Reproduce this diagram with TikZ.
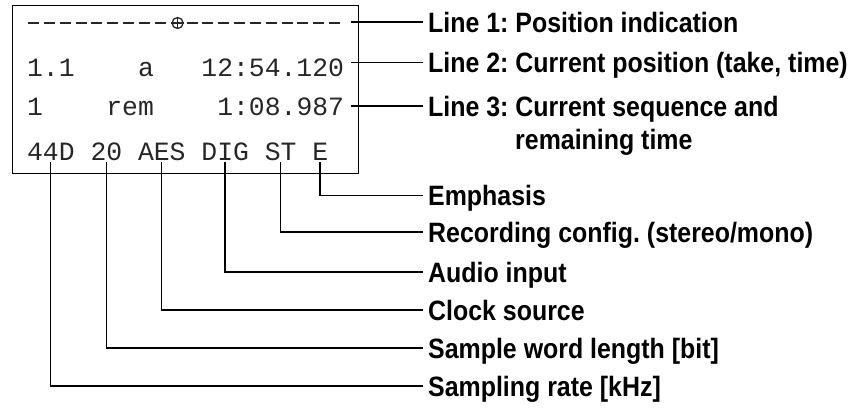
\documentclass[tikz,border=0pt]{standalone}
\usepackage{fontspec}
\newfontfamily\lblfont{Liberation Sans}[FakeStretch=0.89]
\newfontfamily\lcdfont{Liberation Mono}
\frenchspacing
\begin{document}
\begin{tikzpicture}[x=1pt,y=-1pt,
  lcd/.style={font=\lcdfont\fontsize{26.4}{30}\selectfont, anchor=base west, inner sep=0pt, text=black!85},
  lblfnt/.style={font=\lblfont\bfseries\fontsize{28}{32}\selectfont\frenchspacing},
  lbl/.style={lblfnt, anchor=west, inner xsep=5pt, inner ysep=0pt, text height=20pt, text depth=0pt},
  lead/.style={line width=1.3pt}]
\useasboundingbox (0,0) rectangle (853,407);
% display frame
\node[draw, line width=1.4pt, minimum width=346pt, minimum height=168pt, anchor=north west, inner sep=0pt] (frame) at (12,5) {};
% line 1
\node[circle, draw=black!85, line width=1.3pt, minimum size=11pt, inner sep=0pt] (pos) at (177.6,23) {};
\draw[black!85, line width=1.3pt] (pos.north) -- (pos.south) (pos.west) -- (pos.east);
\draw[black!85, line width=2pt, dash pattern=on 11pt off 4.85pt] (28,23) -- (170,23);
\draw[black!85, line width=2pt, dash pattern=on 11pt off 4.85pt] (186.5,23) -- (344,23);
% line 2
\node[lcd] (a1) at (26.9,76) {1.1};
\node[lcd] (a2) at (137.85,76) {a};
\node[lcd] (a3) at (201.25,76) {12:54.120};
% line 3
\node[lcd] (b1) at (26.9,115) {1};
\node[lcd] (b2) at (106.15,115) {rem};
\node[lcd] (b3) at (217.1,115) {1:08.987};
% line 4
\node[lcd] (s44) at (26.9,160) {44D};
\node[lcd] (s20) at (90.3,160) {20};
\node[lcd] (saes) at (137.85,160) {AES};
\node[lcd] (sdig) at (201.25,160) {DIG};
\node[lcd] (sst) at (264.65,160) {ST};
\node[lcd] (se) at (312.2,160) {E};
% labels right
\node[lbl] (l1) at (423,22) {Line 1: Position indication};
\node[lbl] (l2) at (423,62.7) {Line 2: Current position (take, time)};
\node[lbl] (l3) at (423,106) {Line 3: Current sequence and};
\node[lblfnt, anchor=base west, inner sep=0pt] (l3b) at (515,149) {remaining time};
\node[lbl] (le) at (423,195.7) {Emphasis};
\node[lbl] (lst) at (423,232) {Recording config. (stereo/mono)};
\node[lbl] (ldig) at (423,272) {Audio input};
\node[lbl] (laes) at (423,310) {Clock source};
\node[lbl] (l20) at (423,348) {Sample word length [bit]};
\node[lbl] (l44) at (423,386) {Sampling rate [kHz]};
% tick start points
\coordinate (t1) at (351,22);
\coordinate (t2) at (351,62.7);
\coordinate (t3) at (351,106);
\coordinate (c44) at (50.7,162);
\coordinate (c20) at (106.2,162);
\coordinate (caes) at (161.6,162);
\coordinate (cdig) at (225,162);
\coordinate (cst) at (280.5,162);
\coordinate (ce) at (320,162);
% connectors
\draw[lead] (t1) -- (l1.west);
\draw[lead] (t2) -- (l2.west);
\draw[lead] (t3) -- (l3.west);
\draw[lead] (ce) |- (le.west);
\draw[lead] (cst) |- (lst.west);
\draw[lead] (cdig) |- (ldig.west);
\draw[lead] (caes) |- (laes.west);
\draw[lead] (c20) |- (l20.west);
\draw[lead] (c44) |- (l44.west);
\end{tikzpicture}
\end{document}
